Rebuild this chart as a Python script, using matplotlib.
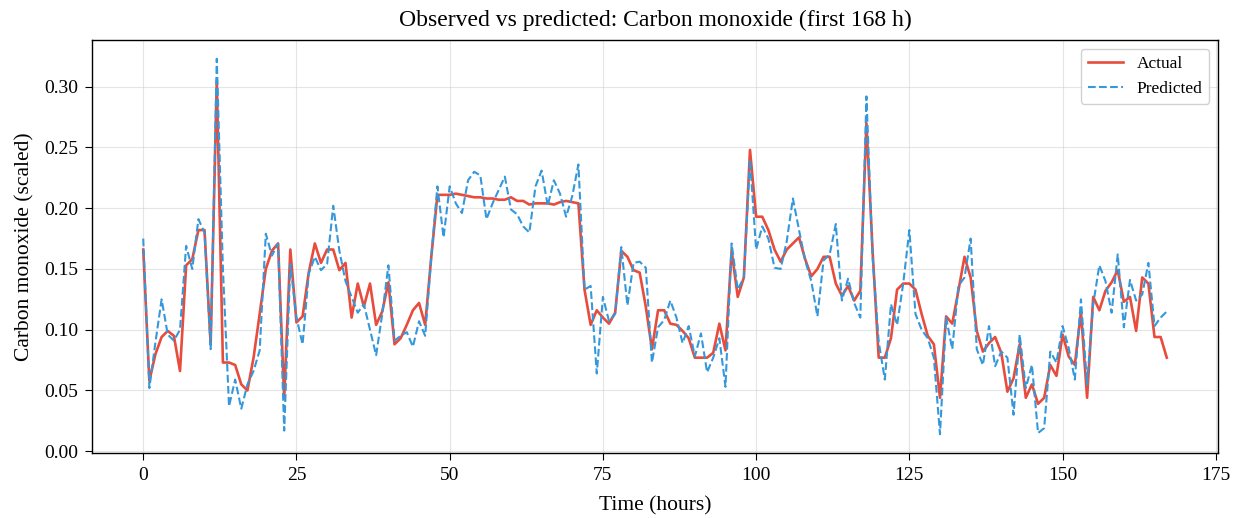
import matplotlib
matplotlib.use("Agg")
import matplotlib.pyplot as plt
import numpy as np

hours = list(range(168))

actual = [
    0.166, 0.058, 0.080, 0.094, 0.099, 0.095, 0.066, 0.153, 0.158, 0.182,
    0.182, 0.088, 0.305, 0.073, 0.073, 0.071, 0.055, 0.050, 0.077, 0.113,
    0.150, 0.165, 0.171, 0.044, 0.166,
    0.106, 0.111, 0.147, 0.171, 0.155, 0.166, 0.166, 0.149, 0.155, 0.110,
    0.138, 0.119, 0.138, 0.104, 0.115, 0.139, 0.088, 0.093, 0.104, 0.116,
    0.122, 0.104, 0.160,
    0.211, 0.211, 0.211, 0.212, 0.211, 0.210, 0.209, 0.209, 0.208, 0.208,
    0.207, 0.207, 0.209, 0.206, 0.206, 0.203, 0.204, 0.204, 0.204, 0.203,
    0.205, 0.206, 0.205, 0.204,
    0.133, 0.104, 0.116, 0.110, 0.105, 0.114, 0.165, 0.160, 0.149, 0.147,
    0.119, 0.084, 0.116, 0.116, 0.105, 0.104, 0.099, 0.093, 0.077, 0.077,
    0.077, 0.081, 0.105, 0.083,
    0.165, 0.127, 0.143, 0.248, 0.193, 0.193, 0.182, 0.166, 0.156, 0.166,
    0.171, 0.176, 0.158, 0.144, 0.150, 0.160, 0.160, 0.138, 0.128, 0.136,
    0.124, 0.132, 0.270, 0.165, 0.077,
    0.077, 0.093, 0.133, 0.138, 0.138, 0.133, 0.113, 0.095, 0.088, 0.044,
    0.111, 0.105, 0.132, 0.160, 0.143, 0.099, 0.082, 0.089, 0.094, 0.081,
    0.049, 0.060, 0.088, 0.044,
    0.055, 0.039, 0.044, 0.071, 0.062, 0.096, 0.078, 0.071, 0.115, 0.044,
    0.127, 0.116, 0.132, 0.139, 0.149, 0.123, 0.127, 0.099, 0.143, 0.138,
    0.094, 0.094, 0.077,
]

predicted = [
    0.175, 0.052, 0.090, 0.125, 0.096, 0.091, 0.100, 0.169, 0.150, 0.191,
    0.180, 0.084, 0.323, 0.150, 0.037, 0.059, 0.035, 0.055, 0.066, 0.083,
    0.179, 0.161, 0.171, 0.017, 0.154,
    0.110, 0.088, 0.146, 0.160, 0.149, 0.154, 0.202, 0.165, 0.140, 0.127,
    0.114, 0.121, 0.100, 0.079, 0.113, 0.153, 0.091, 0.095, 0.098, 0.086,
    0.107, 0.095, 0.160,
    0.218, 0.176, 0.218, 0.204, 0.196, 0.223, 0.230, 0.227, 0.191, 0.204,
    0.215, 0.226, 0.199, 0.195, 0.185, 0.180, 0.218, 0.231, 0.202, 0.223,
    0.212, 0.193, 0.210, 0.236,
    0.133, 0.136, 0.064, 0.127, 0.107, 0.113, 0.168, 0.120, 0.155, 0.156,
    0.151, 0.073, 0.102, 0.108, 0.124, 0.110, 0.089, 0.103, 0.078, 0.097,
    0.065, 0.077, 0.093, 0.053,
    0.171, 0.133, 0.143, 0.240, 0.166, 0.185, 0.175, 0.151, 0.150, 0.173,
    0.208, 0.182, 0.157, 0.140, 0.111, 0.157, 0.162, 0.187, 0.124, 0.142,
    0.122, 0.110, 0.292, 0.160, 0.090,
    0.059, 0.121, 0.104, 0.138, 0.182, 0.113, 0.100, 0.093, 0.077, 0.014,
    0.110, 0.084, 0.136, 0.143, 0.175, 0.084, 0.071, 0.103, 0.070, 0.082,
    0.077, 0.030, 0.096, 0.052,
    0.071, 0.015, 0.019, 0.082, 0.073, 0.103, 0.085, 0.059, 0.125, 0.055,
    0.121, 0.153, 0.140, 0.114, 0.162, 0.102, 0.141, 0.124, 0.129, 0.155,
    0.103, 0.110, 0.115,
]

plt.rcParams['font.family'] = ['Liberation Serif', 'DejaVu Serif']

fig = plt.figure(figsize=(12.39, 5.18), dpi=100)
ax = fig.add_axes([0.0743, 0.1255, 0.9087, 0.7973])

ax.plot(hours, actual, color='#e74c3c', lw=1.9, label='Actual')
ax.plot(hours, predicted, color='#3498db', lw=1.5, ls='--', label='Predicted')

ax.set_title('Observed vs predicted: Carbon monoxide (first 168 h)', fontsize=17, pad=10)
ax.set_xlabel('Time (hours)', fontsize=15.5, labelpad=9)
ax.set_ylabel('Carbon monoxide (scaled)', fontsize=15.5, labelpad=7)
ax.tick_params(labelsize=14, length=5, pad=5)
ax.grid(True, color='#cccccc', alpha=0.5, lw=0.8)
for s in ax.spines.values():
    s.set_color('black')
    s.set_linewidth(1.0)
ax.legend(loc='upper right', fontsize=12.5, framealpha=0.9)

fig.savefig('out.png', dpi=100)
